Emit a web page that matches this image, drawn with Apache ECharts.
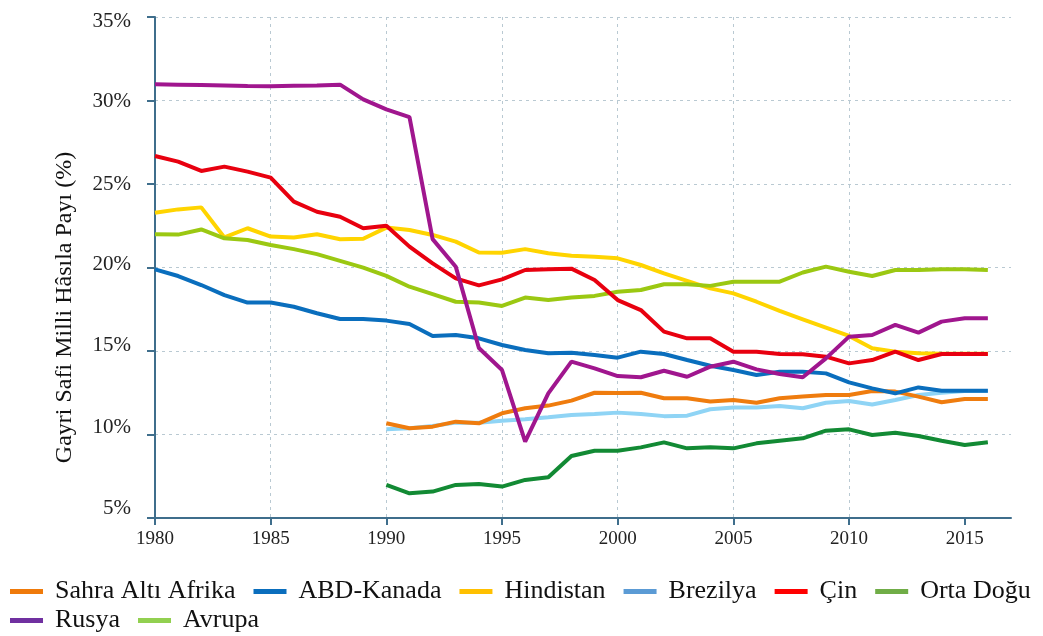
<!DOCTYPE html>
<html>
<head>
<meta charset="utf-8">
<script src="https://cdn.jsdelivr.net/npm/echarts@6/dist/echarts.min.js"></script>
<style>
  html, body { margin: 0; padding: 0; background: #fff; }
  #chart { width: 1043px; height: 636px; }
</style>
</head>
<body>
<div id="chart"></div>
<script>
const years = [];
for (let y = 1980; y <= 2016; y++) years.push(y);

const xTicks = [1980, 1985, 1990, 1995, 2000, 2005, 2010, 2015];

// values 1980..2016, null before the series begins
const sahra = [null, null, null, null, null, null, null, null, null, null,
  10.67, 10.37, 10.47, 10.77, 10.67, 11.27, 11.57, 11.73, 12.03, 12.5,
  12.48, 12.5, 12.17, 12.17, 11.97, 12.07, 11.9, 12.17, 12.27, 12.37,
  12.37, 12.6, 12.57, 12.27, 11.93, 12.13, 12.13];
const abdKanada = [19.89, 19.49, 18.95, 18.35, 17.9, 17.9, 17.65, 17.26, 16.92, 16.92,
  16.82, 16.62, 15.9, 15.96, 15.76, 15.36, 15.06, 14.86, 14.9, 14.76,
  14.6, 14.96, 14.82, 14.46, 14.12, 13.86, 13.56, 13.76, 13.76, 13.66,
  13.12, 12.76, 12.46, 12.82, 12.62, 12.62, 12.62];
const hindistan = [23.28, 23.48, 23.6, 21.8, 22.35, 21.85, 21.8, 21.99, 21.69, 21.72,
  22.39, 22.25, 21.95, 21.55, 20.9, 20.88, 21.1, 20.85, 20.7, 20.65,
  20.55, 20.15, 19.65, 19.2, 18.75, 18.45, 17.95, 17.4, 16.9, 16.4,
  15.9, 15.16, 14.96, 14.86, 14.84, 14.84, 14.84];
const brezilya = [null, null, null, null, null, null, null, null, null, null,
  10.31, 10.37, 10.51, 10.71, 10.71, 10.83, 10.91, 11.03, 11.17, 11.23,
  11.31, 11.23, 11.1, 11.13, 11.51, 11.61, 11.61, 11.71, 11.57, 11.9,
  12.0, 11.8, 12.07, 12.37, 12.5, 12.6, 12.6];
const cin = [26.68, 26.34, 25.78, 26.04, 25.74, 25.38, 23.94, 23.34, 23.04, 22.35,
  22.5, 21.25, 20.25, 19.35, 18.93, 19.29, 19.85, 19.9, 19.93, 19.25,
  18.05, 17.45, 16.16, 15.76, 15.76, 14.96, 14.96, 14.82, 14.8, 14.66,
  14.26, 14.46, 14.96, 14.46, 14.82, 14.82, 14.82];
const ortaDogu = [null, null, null, null, null, null, null, null, null, null,
  6.98, 6.48, 6.58, 6.98, 7.04, 6.88, 7.28, 7.44, 8.71, 9.03,
  9.03, 9.23, 9.53, 9.17, 9.23, 9.17, 9.47, 9.63, 9.77, 10.23,
  10.31, 9.97, 10.11, 9.91, 9.63, 9.37, 9.53];
const rusya = [30.97, 30.95, 30.93, 30.9, 30.87, 30.85, 30.88, 30.9, 30.95, 30.07,
  29.47, 29.0, 21.7, 20.05, 15.18, 13.86, 9.57, 12.46, 14.36, 13.96,
  13.5, 13.43, 13.82, 13.46, 14.06, 14.36, 13.9, 13.62, 13.43, 14.56,
  15.86, 15.96, 16.56, 16.1, 16.76, 16.96, 16.96];
const avrupa = [21.99, 21.97, 22.28, 21.75, 21.65, 21.35, 21.1, 20.8, 20.4, 19.99,
  19.5, 18.85, 18.4, 17.95, 17.9, 17.7, 18.2, 18.05, 18.21, 18.3,
  18.55, 18.65, 19.0, 19.0, 18.9, 19.15, 19.15, 19.15, 19.7, 20.05,
  19.75, 19.49, 19.85, 19.85, 19.9, 19.9, 19.85];

// name, values, line colour, legend colour, drawing order
const seriesDefs = [
  ['Sahra Altı Afrika', sahra, '#ef7c0e', '#ef7a0a', 4],
  ['ABD-Kanada', abdKanada, '#0a6ebd', '#0a6ebd', 5],
  ['Hindistan', hindistan, '#ffd400', '#ffc000', 3],
  ['Brezilya', brezilya, '#8fd4f5', '#5b9bd5', 2],
  ['Çin', cin, '#e8000f', '#ff0000', 6],
  ['Orta Doğu', ortaDogu, '#128a34', '#70ad47', 4],
  ['Rusya', rusya, '#a0168e', '#7030a0', 7],
  ['Avrupa', avrupa, '#9bc812', '#92d050', 3]
];

const serif = '"Liberation Serif", "DejaVu Serif", serif';

// the y labels in the source sit a little off their gridlines (px, + = down)
const yLabelShift = { 5: -10, 10: -7, 15: -6, 20: -3, 25: 0, 30: 1, 35: 4 };
const yRich = {};
Object.keys(yLabelShift).forEach(k => {
  const d = yLabelShift[k];
  yRich['s' + k] = {
    fontFamily: serif, fontSize: 21, color: '#222',
    padding: d >= 0 ? [2 * d, 0, 0, 0] : [0, 0, -2 * d, 0]
  };
});

const myChart = echarts.init(document.getElementById('chart'));

let option = {
  animation: false,
  backgroundColor: '#fff',
  grid: { left: 155, right: 32, top: 17, bottom: 118 },
  legend: {
    left: 10,
    top: 577,
    width: 1060,
    icon: 'rect',
    itemWidth: 33,
    itemHeight: 5,
    itemGap: 0,
    padding: 0,
    textStyle: {
      fontFamily: serif, fontSize: 26, color: '#111',
      lineHeight: 29, padding: [0, 18, 0, 7]
    },
    data: seriesDefs.map(d => ({ name: d[0], itemStyle: { color: d[3] } }))
  },
  xAxis: {
    type: 'value',
    min: 1980,
    max: 2017,
    interval: 5,
    axisLine: { lineStyle: { color: '#3f6e8c', width: 2 } },
    axisTick: { show: true, customValues: xTicks, length: 7, lineStyle: { color: '#3f6e8c', width: 2 } },
    axisLabel: {
      customValues: xTicks,
      fontFamily: serif, fontSize: 19, color: '#222', margin: 12,
      formatter: v => String(v)
    },
    splitLine: {
      show: true, showMinLine: false, showMaxLine: false,
      lineStyle: { color: '#b9c9d2', type: [3, 4], width: 1 }
    }
  },
  yAxis: {
    type: 'value',
    min: 5,
    max: 35,
    interval: 5,
    name: 'Gayri Safi Milli Hâsıla Payı (%)',
    nameLocation: 'middle',
    nameGap: 78,
    nameTextStyle: { fontFamily: serif, fontSize: 24, color: '#111', padding: [0, 80, 0, 0] },
    axisLine: { show: true, lineStyle: { color: '#3f6e8c', width: 2 } },
    axisTick: { show: true, length: 8, lineStyle: { color: '#3f6e8c', width: 2 } },
    axisLabel: {
      fontFamily: serif, fontSize: 21, color: '#222', margin: 24,
      formatter: v => '{s' + v + '|' + v + '%}',
      rich: yRich
    },
    splitLine: {
      show: true,
      lineStyle: { color: '#b9c9d2', type: [3, 4], width: 1 }
    }
  },
  series: seriesDefs.map(d => ({
    name: d[0],
    type: 'line',
    data: years.map((y, i) => [y, d[1][i]]),
    showSymbol: false,
    symbol: 'none',
    connectNulls: false,
    z: d[4],
    color: d[2],
    lineStyle: { color: d[2], width: 4 }
  }))
};

myChart.setOption(option);
</script>
</body>
</html>
